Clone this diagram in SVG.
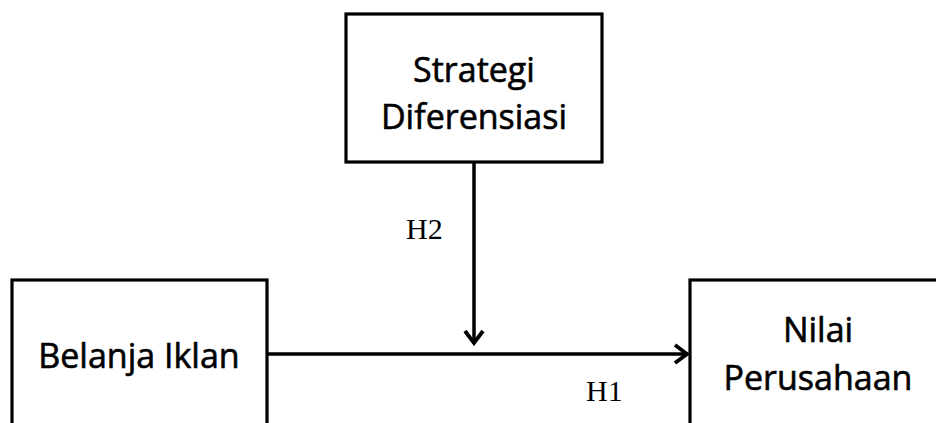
<svg xmlns="http://www.w3.org/2000/svg" width="936" height="423" viewBox="0 0 936 423">
<style>
.box{fill:#fff;stroke:#000;stroke-width:3.2}
.lbl{font-family:"Open Sans","Noto Sans","Liberation Sans",sans-serif;font-size:34px;fill:#000;stroke:#000;stroke-width:0.6;text-anchor:middle}
.h{font-family:"Liberation Serif","Times New Roman",serif;font-size:30px;fill:#000}
.conn{stroke:#000;stroke-width:3.5;fill:none}
</style>
<defs>
<marker id="arr" viewBox="0 0 22 22" refX="20" refY="11" markerWidth="22" markerHeight="22" markerUnits="userSpaceOnUse" orient="auto">
<path d="M7,2 L19,11 L7,20" fill="none" stroke="#000" stroke-width="3.8"/>
</marker>
</defs>
<rect width="936" height="423" fill="#fff"/>
<g id="node-strategi">
<rect class="box" x="346" y="14" width="256" height="148"/>
<text class="lbl" x="474" y="82">Strategi</text>
<text class="lbl" x="474" y="129">Diferensiasi</text>
</g>
<g id="node-belanja">
<rect class="box" x="12" y="280" width="255" height="160"/>
<text class="lbl" x="139" y="368">Belanja Iklan</text>
</g>
<g id="node-nilai">
<rect class="box" x="690" y="280" width="256" height="160"/>
<text class="lbl" x="818" y="342">Nilai</text>
<text class="lbl" x="818" y="390">Perusahaan</text>
</g>
<g id="connectors">
<line class="conn" x1="267" y1="354" x2="688" y2="354" marker-end="url(#arr)"/>
<line class="conn" x1="474" y1="163" x2="474" y2="344" marker-end="url(#arr)"/>
<text class="h" x="406" y="239">H2</text>
<text class="h" x="586" y="401">H1</text>
</g>
</svg>
